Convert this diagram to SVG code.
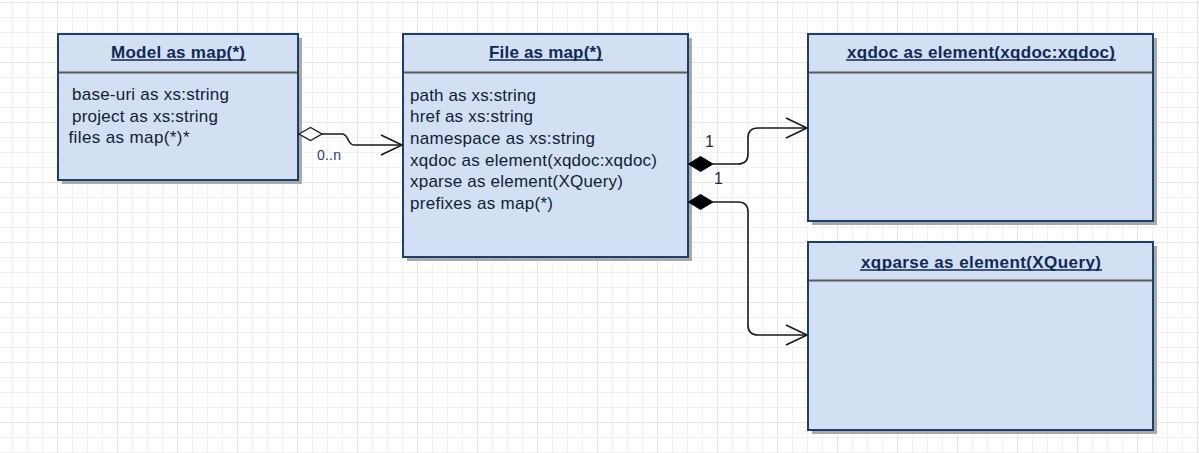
<svg xmlns="http://www.w3.org/2000/svg" width="1199" height="453" viewBox="0 0 1199 453">
  <defs>
    <pattern id="gridMinor" x="12" y="2" width="15" height="15" patternUnits="userSpaceOnUse">
      <path d="M0.5 0V15M0 0.5H15" fill="none" stroke="#f1f1f1" stroke-width="1"/>
    </pattern>
    <pattern id="gridMajor" x="57" y="2" width="60" height="60" patternUnits="userSpaceOnUse">
      <path d="M0.5 0V60M0 0.5H60" fill="none" stroke="#e4e4e4" stroke-width="1"/>
    </pattern>
    <marker id="openArrow" markerUnits="userSpaceOnUse" markerWidth="24" markerHeight="24" refX="22" refY="11" orient="auto">
      <path d="M1 1L22 11L1 21" fill="none" stroke="#1a1a1a" stroke-width="1.6"/>
    </marker>
  </defs>
  <style>
    .box { fill: #d3e0f3; stroke: #1d3f6c; stroke-width: 2; }
    .shadow { fill: #a9a9a9; }
    .sep { stroke: #5a5a5a; stroke-width: 2.2; }
    .title { font-family: "Liberation Sans", Arial, sans-serif; font-size: 17px; font-weight: bold; fill: #0f2a55; }
    .uline { stroke: #0f2a55; stroke-width: 1.3; }
    .attr { font-family: "Liberation Sans", Arial, sans-serif; font-size: 17px; fill: #111d36; }
    .edge { fill: none; stroke: #1a1a1a; stroke-width: 1.6; }
    .mult { font-family: "Liberation Sans", Arial, sans-serif; font-size: 16px; fill: #1c2c52; }
    .multSmall { font-family: "Liberation Sans", Arial, sans-serif; font-size: 14px; fill: #1f3f7a; }
  </style>

  <!-- background grid -->
  <rect width="1199" height="453" fill="#ffffff"/>
  <rect width="1199" height="453" fill="url(#gridMinor)"/>
  <rect width="1199" height="453" fill="url(#gridMajor)"/>

  <!-- class: Model -->
  <g id="model">
    <rect class="shadow" x="62" y="38" width="240" height="146"/>
    <rect class="box" x="58" y="34" width="240" height="146"/>
    <line class="sep" x1="59" y1="72.5" x2="297" y2="72.5"/>
    <text class="title" x="111" y="57.5" textLength="134" lengthAdjust="spacing">Model as map(*)</text>
    <line class="uline" x1="111" y1="60" x2="246" y2="60"/>
    <text class="attr" x="72" y="100" textLength="157" lengthAdjust="spacing">base-uri as xs:string</text>
    <text class="attr" x="72" y="121.7" textLength="146" lengthAdjust="spacing">project as xs:string</text>
    <text class="attr" x="68.5" y="143.3" textLength="121" lengthAdjust="spacing">files as map(*)*</text>
  </g>

  <!-- class: File -->
  <g id="file">
    <rect class="shadow" x="407" y="38" width="285" height="223"/>
    <rect class="box" x="403" y="34" width="285" height="223"/>
    <line class="sep" x1="404" y1="72.5" x2="687" y2="72.5"/>
    <text class="title" x="489" y="57.5" textLength="113" lengthAdjust="spacing">File as map(*)</text>
    <line class="uline" x1="489" y1="60" x2="603" y2="60"/>
    <text class="attr" x="410" y="100.7" textLength="126" lengthAdjust="spacing">path as xs:string</text>
    <text class="attr" x="410" y="122.3" textLength="123" lengthAdjust="spacing">href as xs:string</text>
    <text class="attr" x="410" y="144" textLength="185" lengthAdjust="spacing">namespace as xs:string</text>
    <text class="attr" x="410" y="165.7" textLength="247" lengthAdjust="spacing">xqdoc as element(xqdoc:xqdoc)</text>
    <text class="attr" x="410" y="187.3" textLength="213" lengthAdjust="spacing">xparse as element(XQuery)</text>
    <text class="attr" x="410" y="209" textLength="143" lengthAdjust="spacing">prefixes as map(*)</text>
  </g>

  <!-- class: xqdoc -->
  <g id="xqdoc">
    <rect class="shadow" x="812" y="38" width="345" height="187"/>
    <rect class="box" x="808" y="34" width="345" height="187"/>
    <line class="sep" x1="809" y1="72.5" x2="1152" y2="72.5"/>
    <text class="title" x="847" y="57.5" textLength="268" lengthAdjust="spacing">xqdoc as element(xqdoc:xqdoc)</text>
    <line class="uline" x1="846" y1="60" x2="1116" y2="60"/>
  </g>

  <!-- class: xqparse -->
  <g id="xqparse">
    <rect class="shadow" x="812" y="246" width="345" height="188"/>
    <rect class="box" x="808" y="242" width="345" height="188"/>
    <line class="sep" x1="809" y1="280.5" x2="1152" y2="280.5"/>
    <text class="title" x="861" y="267.5" textLength="240" lengthAdjust="spacing">xqparse as element(XQuery)</text>
    <line class="uline" x1="860" y1="270" x2="1102" y2="270"/>
  </g>

  <!-- associations -->
  <g id="connectors">
    <!-- Model.files -> File (aggregation) -->
    <path class="edge" d="M322 134H342C349 134 347 145 354 145H402" marker-end="url(#openArrow)"/>
    <path d="M299 134L310.5 127.5L322 134L310.5 140.5Z" fill="#ffffff" stroke="#1a1a1a" stroke-width="1.4"/>
    <text class="multSmall" x="317" y="159.5" textLength="24" lengthAdjust="spacing">0..n</text>

    <!-- File.xqdoc -> xqdoc (composition) -->
    <path class="edge" d="M713 164H738Q748 164 748 154V138Q748 128 758 128H807" marker-end="url(#openArrow)"/>
    <path d="M688.5 164L700.5 156.5L713 164L700.5 171.5Z" fill="#000000" stroke="#000000" stroke-width="1"/>
    <text class="mult" x="705" y="147">1</text>

    <!-- File.xparse -> xqparse (composition) -->
    <path class="edge" d="M713 202H738Q748 202 748 212V325Q748 335 758 335H807" marker-end="url(#openArrow)"/>
    <path d="M688.5 202L700.5 194.5L713 202L700.5 209.5Z" fill="#000000" stroke="#000000" stroke-width="1"/>
    <text class="mult" x="714" y="184">1</text>
  </g>
</svg>
